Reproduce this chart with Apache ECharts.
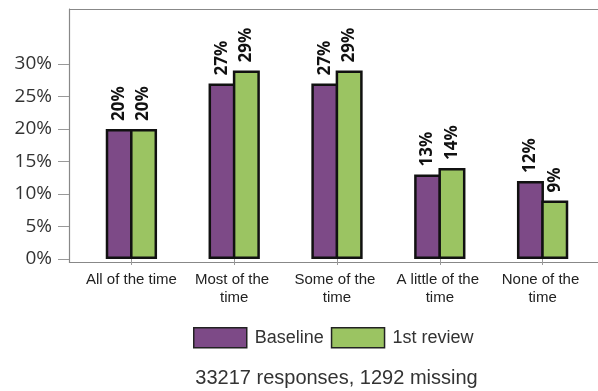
<!DOCTYPE html>
<html>
<head>
<meta charset="utf-8">
<script src="https://cdn.jsdelivr.net/npm/echarts@6/dist/echarts.min.js"></script>
<style>
  html, body { margin: 0; padding: 0; background: #fff; }
  #chart { width: 598px; height: 391px; }
</style>
</head>
<body>
<div id="chart"></div>
<script>
// data
var categories = ['All of the time', 'Most of the time', 'Some of the time', 'A little of the time', 'None of the time'];
var baseline = [20, 27, 27, 13, 12];
var firstReview = [20, 29, 29, 14, 9];
var yTicks = [0, 5, 10, 15, 20, 25, 30];
var footerText = '33217 responses, 1292 missing';

var myChart = echarts.init(document.getElementById('chart'));

var barLabel = {
	show: true,
	position: 'top',
	rotate: 90,
	align: 'left',
	verticalAlign: 'middle',
	distance: 8,
	formatter: function (p) { return p.value + '%'; },
	fontFamily: 'Open Sans',
	fontWeight: 'bold',
	fontSize: 17,
	color: '#111',
};

var option = {
	animation: false,
	grid: {
		left: 80,
		right: 4,
		top: 9,
		bottom: 129,
	},
	legend: {
		data: ['Baseline', '1st review'],
		icon: 'rect',
		left: 193,
		top: 327,
		padding: 0,
		itemWidth: 53,
		itemHeight: 20,
		itemGap: 7,
		itemStyle: { borderWidth: 1.5, borderColor: '#222' },
		textStyle: { fontFamily: 'Liberation Sans', fontSize: 18, color: '#333', padding: [0, 0, 0, 3] },
	},
	xAxis: {
		type: 'category',
		data: categories,
		axisLine: { show: false },
		axisTick: { show: true, alignWithLabel: true, length: 6, lineStyle: { color: '#999' } },
		axisLabel: {
			interval: 0,
			margin: 9,
			width: 100,
			overflow: 'break',
			lineHeight: 18,
			fontFamily: 'Liberation Sans',
			fontSize: 15,
			color: '#222',
		},
	},
	yAxis: {
		type: 'value',
		min: -0.46,
		max: 38.46,
		offset: 11,
		splitLine: { show: false },
		axisLine: { show: true, lineStyle: { color: '#888' } },
		axisTick: { show: true, length: 11, customValues: yTicks, lineStyle: { color: '#999' } },
		axisLabel: {
			customValues: yTicks,
			margin: 17,
			formatter: function (v) { return v + '%'; },
			fontFamily: 'Open Sans',
			fontSize: 19,
			color: '#333',
		},
	},
	graphic: [
		{
			type: 'polyline',
			shape: { points: [[598, 9.5], [69.5, 9.5], [69.5, 262.5], [598, 262.5]] },
			style: { stroke: '#888', lineWidth: 1.2, fill: null },
			silent: true,
		},
		{
			type: 'text',
			x: 336.5,
			y: 378.5,
			style: {
				text: footerText,
				align: 'center',
				verticalAlign: 'middle',
				fontFamily: 'Liberation Sans',
				fontSize: 20,
				fill: '#333',
			},
		},
	],
	series: [
		{
			name: 'Baseline',
			type: 'bar',
			data: baseline,
			barWidth: 27,
			barGap: '-10%',
			itemStyle: { color: '#7d4a87', borderColor: '#111', borderWidth: 2.5, borderRadius: 0 },
			label: barLabel,
		},
		{
			name: '1st review',
			type: 'bar',
			data: firstReview,
			barWidth: 27,
			barGap: '-10%',
			itemStyle: { color: '#9bc462', borderColor: '#111', borderWidth: 2.5, borderRadius: 0 },
			label: barLabel,
		},
	],
};

myChart.setOption(option);
</script>
</body>
</html>
